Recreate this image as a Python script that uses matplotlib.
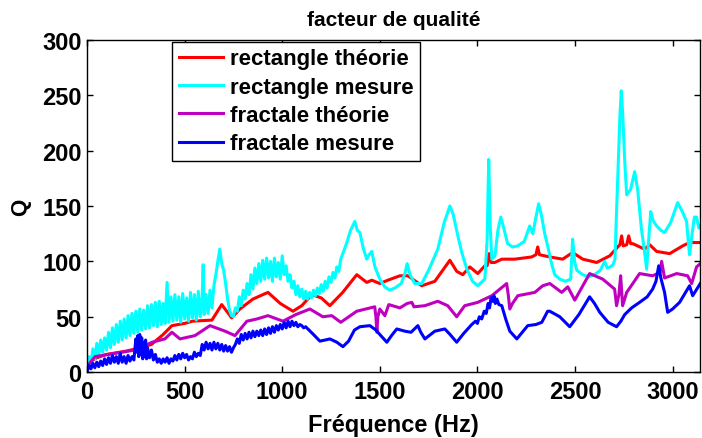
import matplotlib
matplotlib.use("Agg")
import matplotlib.pyplot as plt

# rectangle théorie
rt_f = [0, 50, 100, 200, 250, 330, 390, 435, 500, 540, 640, 690, 741, 783, 850, 927, 990,
        1055, 1100, 1152, 1200, 1244, 1310, 1382, 1433, 1459, 1500, 1541, 1603, 1644, 1715,
        1782, 1859, 1894, 1925, 1961, 2002, 2038, 2050, 2060, 2070, 2089, 2125, 2191, 2278,
        2300, 2309, 2318, 2371, 2437, 2488, 2540, 2611, 2678, 2719, 2730, 2739, 2747, 2765,
        2775, 2785, 2796, 2857, 2883, 2918, 2985, 3052, 3087, 3149]
rt_q = [8, 13, 16, 19, 21, 25, 34, 42, 44, 46, 47, 61, 49, 57, 66, 72, 62,
        55, 60, 70, 67, 60, 72, 88, 81, 83, 80, 83, 87, 87, 78,
        82, 101, 91, 88, 95, 89, 96, 96, 107, 99, 99, 102, 102, 104,
        106, 113, 106, 104, 102, 108, 102, 99, 105, 113, 115, 123, 114, 115,
        123, 116, 116, 111, 115, 109, 107, 114, 117, 117]

# rectangle mesure
rm_f = [0, 10, 20, 30, 40, 50, 60, 70, 80, 90, 100, 110, 120, 130, 140, 150, 160, 170, 180,
        190, 200, 210, 220, 230, 240, 250, 260, 270, 280, 290, 300, 310, 320, 330, 340, 350,
        360, 370, 380, 390, 400, 410, 420, 430, 440, 450, 460, 470, 480, 490, 500, 510, 520,
        530, 540, 550, 560, 570, 580, 590, 595, 600, 610, 620, 630, 640, 650, 660, 670, 680,
        690, 700, 710, 720, 730, 740, 750, 760, 770, 780, 790, 800, 810, 820, 830, 840, 850,
        860, 870, 880, 890, 900, 910, 920, 930, 940, 950, 960, 970, 980, 990, 1000, 1010,
        1020, 1030, 1040, 1050, 1060, 1070, 1080, 1090, 1100, 1110, 1120, 1130, 1140, 1150,
        1160, 1170, 1180, 1190, 1200, 1210, 1220, 1230, 1240, 1250, 1260, 1270, 1280, 1290,
        1300, 1331, 1350, 1372, 1385, 1398, 1415, 1433, 1445, 1459, 1475, 1500, 1525, 1551,
        1577, 1610, 1630, 1640, 1655, 1679, 1715, 1750, 1797, 1830, 1859, 1875, 1900, 1920,
        1946, 1975, 2002, 2038, 2050, 2058, 2066, 2074, 2090, 2105, 2120, 2135, 2155, 2180,
        2207, 2240, 2268, 2284, 2300, 2314, 2330, 2345, 2360, 2380, 2396, 2422, 2450, 2478,
        2488, 2498, 2509, 2540, 2570, 2600, 2630, 2652, 2665, 2680, 2695, 2705, 2712, 2719,
        2730, 2737, 2744, 2755, 2765, 2785, 2806, 2821, 2840, 2857, 2867, 2878, 2888, 2900,
        2918, 2940, 2959, 2990, 3026, 3050, 3072, 3082, 3087, 3100, 3112, 3123, 3135, 3149]
rm_q = [4, 14, 8, 21, 12, 26, 15, 29, 18, 31, 20, 36, 22, 40, 25, 43, 27, 46, 29,
        48, 31, 51, 33, 53, 35, 55, 36, 57, 38, 56, 39, 60, 40, 61, 42, 63,
        41, 64, 43, 62, 44, 81, 45, 68, 46, 70, 47, 68, 45, 71, 48, 67, 46,
        72, 49, 70, 47, 73, 50, 68, 97, 52, 70, 53, 74, 58, 78, 88, 100, 111,
        98, 92, 80, 66, 56, 51, 50, 58, 55, 68, 60, 74, 66, 80, 70, 88, 75,
        94, 80, 98, 82, 101, 84, 103, 85, 100, 82, 103, 86, 99, 84, 105, 88,
        96, 82, 88, 76, 82, 70, 78, 68, 75, 66, 73, 66, 72, 67,
        74, 69, 76, 71, 79, 73, 82, 76, 86, 81, 90, 85, 95, 91,
        102, 117, 128, 136, 128, 126, 112, 102, 106, 109, 95, 84, 77, 74,
        76, 80, 90, 98, 88, 80, 80, 92, 111, 135, 150, 143, 123, 108,
        93, 82, 78, 84, 120, 192, 130, 102, 105, 128, 140, 130, 116, 113,
        114, 118, 132, 125, 140, 152, 140, 125, 114, 98, 88, 84, 82, 84,
        120, 100, 92, 88, 86, 88, 92, 100, 94, 95, 97, 102, 140, 174,
        230, 254, 235, 190, 160, 165, 181, 165, 130, 108, 93, 120, 145, 137,
        132, 128, 126, 135, 153, 145, 136, 115, 106, 125, 140, 140, 130, 134]

# fractale théorie
ft_f = [0, 41, 108, 180, 246, 333, 399, 435, 476, 553, 630, 707, 758, 819, 870, 927, 1004,
        1070, 1142, 1208, 1254, 1300, 1382, 1474, 1480, 1485, 1490, 1500, 1526, 1546, 1603,
        1640, 1664, 1675, 1731, 1797, 1848, 1894, 1935, 2002, 2074, 2150, 2158, 2166, 2180,
        2207, 2294, 2335, 2371, 2432, 2463, 2499, 2575, 2642, 2703, 2713, 2725, 2734, 2744,
        2765, 2831, 2898, 2935, 2944, 2959, 3021, 3077, 3098, 3123, 3149]
ft_q = [5, 14, 16, 18, 20, 27, 30, 36, 30, 33, 42, 37, 33, 46, 48, 51, 46,
        52, 57, 50, 51, 45, 55, 59, 50, 36, 50, 57, 51, 61, 58,
        62, 63, 59, 60, 64, 60, 50, 60, 63, 69, 80, 70, 57, 62,
        69, 72, 78, 80, 72, 77, 65, 89, 84, 75, 60, 70, 87, 60,
        72, 89, 87, 90, 100, 85, 89, 87, 80, 95, 99]

# fractale mesure
fm_f = [0, 10, 20, 30, 40, 50, 60, 70, 80, 90, 100, 110, 120, 130, 140, 150, 160, 170, 180,
        190, 200, 210, 220, 230, 240, 250, 255, 260, 265, 270, 275, 280, 285, 290, 295, 300,
        305, 310, 320, 330, 340, 350, 360, 370, 380, 390, 400, 410, 420, 430, 440, 450, 460,
        470, 480, 490, 500, 510, 520, 530, 540, 550, 560, 570, 580, 590, 600, 610, 620, 630,
        640, 650, 660, 670, 680, 690, 700, 710, 720, 730, 740, 750, 760, 770, 780, 790, 800,
        810, 820, 830, 840, 850, 860, 870, 880, 890, 900, 910, 920, 930, 940, 950, 960, 970,
        980, 990, 1000, 1010, 1020, 1030, 1040, 1050, 1060, 1070, 1080, 1090, 1100, 1110,
        1120, 1160, 1193, 1220, 1244, 1280, 1311, 1340, 1370, 1398, 1449, 1480, 1500, 1536,
        1560, 1587, 1628, 1660, 1695, 1710, 1731, 1760, 1782, 1833, 1860, 1894, 1930, 1971,
        1990, 2000, 2010, 2022, 2035, 2045, 2055, 2062, 2070, 2079, 2085, 2092, 2100, 2110,
        2125, 2145, 2166, 2202, 2230, 2258, 2300, 2330, 2360, 2371, 2422, 2473, 2520, 2575,
        2600, 2627, 2670, 2713, 2735, 2755, 2790, 2831, 2870, 2898, 2915, 2929, 2940, 2959,
        2975, 3000, 3036, 3060, 3087, 3103, 3149]
fm_q = [0, 6, 3, 8, 4, 9, 5, 10, 6, 12, 7, 13, 8, 15, 9, 14, 8, 17, 9,
        14, 8, 15, 10, 14, 11, 30, 18, 33, 14, 34, 16, 31, 12, 27, 14, 29,
        12, 22, 13, 20, 11, 16, 9, 12, 8, 12, 9, 13, 8, 12, 10, 15, 11,
        16, 12, 17, 13, 16, 11, 14, 12, 18, 14, 17, 15, 25, 20, 27, 21, 26,
        20, 27, 21, 26, 20, 25, 19, 24, 19, 23, 18, 22, 25, 30, 26, 34, 29,
        35, 30, 36, 31, 37, 32, 37, 33, 38, 33, 39, 34, 40, 35, 41, 36, 42,
        38, 43, 39, 45, 40, 46, 41, 46, 42, 45, 41, 43, 42, 40,
        41, 34, 28, 29, 30, 27, 23, 28, 38, 41, 42, 38, 34, 27,
        33, 39, 37, 36, 42, 36, 30, 34, 37, 39, 34, 27, 35, 43,
        46, 44, 50, 48, 55, 53, 62, 58, 67, 64, 69, 62, 66, 61,
        60, 48, 37, 30, 36, 42, 43, 45, 55, 55, 50, 41, 52, 68,
        62, 54, 45, 41, 46, 52, 58, 63, 68, 75, 82, 96, 85, 72,
        54, 57, 63, 70, 78, 69, 82]

plt.rcParams['font.family'] = ['Liberation Sans', 'DejaVu Sans']
plt.rcParams['font.weight'] = 'bold'

fig = plt.figure(figsize=(7.02, 4.39), dpi=100)
ax = fig.add_axes([0.124, 0.150, 0.873, 0.757])

ax.plot(rt_f, rt_q, color='#ff0000', lw=2.2, label='rectangle théorie')
ax.plot(rm_f, rm_q, color='#00ffff', lw=2.2, label='rectangle mesure')
ax.plot(ft_f, ft_q, color='#bf00bf', lw=2.2, label='fractale théorie')
ax.plot(fm_f, fm_q, color='#0000ff', lw=2.2, label='fractale mesure')

ax.set_xlim(0, 3140)
ax.set_ylim(0, 300)
ax.set_xticks(range(0, 3001, 500))
ax.set_yticks(range(0, 301, 50))
ax.tick_params(direction='in', length=4, width=1, top=True, right=True,
               labelsize=17, pad=4)
ax.tick_params(axis='x', pad=6)
for lab in ax.get_xticklabels() + ax.get_yticklabels():
    lab.set_fontweight('bold')
for s in ax.spines.values():
    s.set_linewidth(1)

ax.set_title('facteur de qualité', fontsize=15, fontweight='bold', pad=11)
ax.set_xlabel('Fréquence (Hz)', fontsize=17, fontweight='bold', labelpad=7)
ax.set_ylabel('Q', fontsize=16, fontweight='bold', labelpad=8)

leg = ax.legend(loc='upper left', bbox_to_anchor=(0.139, 0.994), fontsize=16,
                frameon=True, fancybox=False, edgecolor='black', framealpha=1,
                handlelength=2.0, handletextpad=0.3, labelspacing=0.33,
                borderpad=0.3, borderaxespad=0)
leg.get_frame().set_linewidth(1)
for t in leg.get_texts():
    t.set_fontweight('bold')

fig.savefig('out.png', dpi=100)
